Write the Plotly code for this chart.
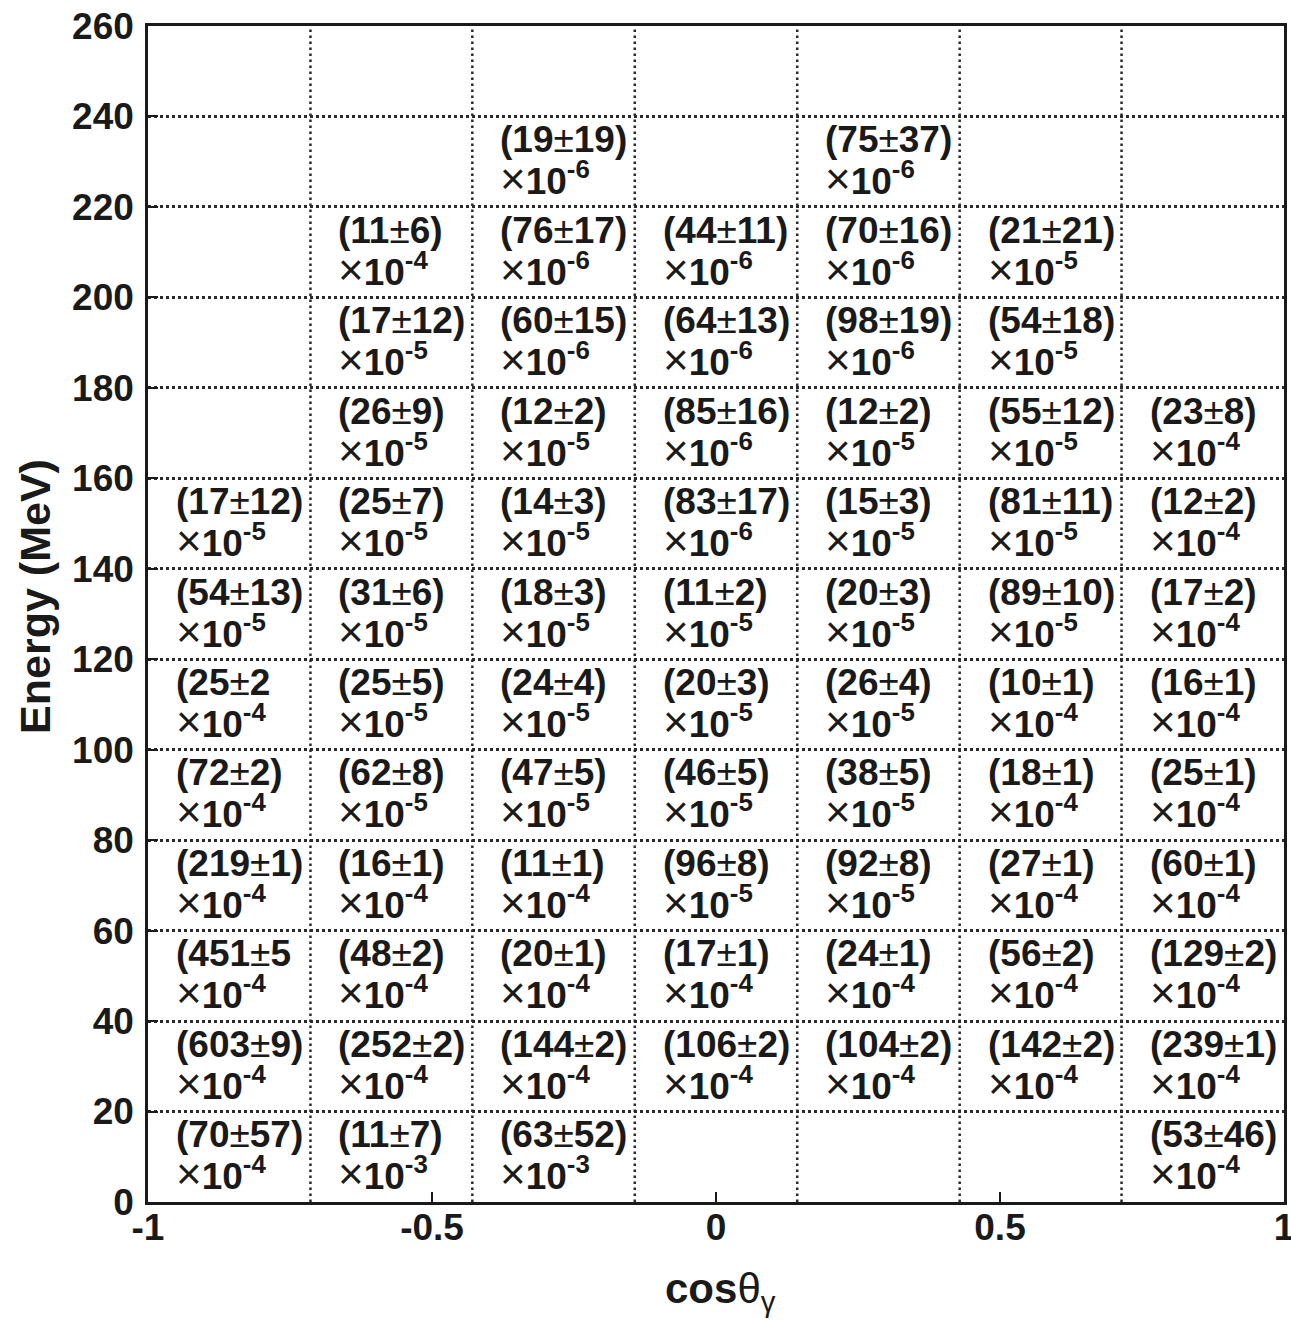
import plotly.graph_objects as go

# ---------------- data ----------------
cos_edges = [-1.0, -0.714, -0.429, -0.143, 0.143, 0.429, 0.714, 1.0]
energy_edges = [0, 20, 40, 60, 80, 100, 120, 140, 160, 180, 200, 220, 240, 260]
x_tick_vals = [-1, -0.5, 0, 0.5, 1]
x_tick_text = ["-1", "-0.5", "0", "0.5", "1"]
y_tick_vals = [0, 20, 40, 60, 80, 100, 120, 140, 160, 180, 200, 220, 240, 260]

# rows: energy bins from 0-20 MeV upward; columns: cos bins from -1 upward
central = [
    [70, 11, 63, None, None, None, 53],
    [603, 252, 144, 106, 104, 142, 239],
    [451, 48, 20, 17, 24, 56, 129],
    [219, 16, 11, 96, 92, 27, 60],
    [72, 62, 47, 46, 38, 18, 25],
    [25, 25, 24, 20, 26, 10, 16],
    [54, 31, 18, 11, 20, 89, 17],
    [17, 25, 14, 83, 15, 81, 12],
    [None, 26, 12, 85, 12, 55, 23],
    [None, 17, 60, 64, 98, 54, None],
    [None, 11, 76, 44, 70, 21, None],
    [None, None, 19, None, 75, None, None],
]
errors = [
    [57, 7, 52, None, None, None, 46],
    [9, 2, 2, 2, 2, 2, 1],
    [5, 2, 1, 1, 1, 2, 2],
    [1, 1, 1, 8, 8, 1, 1],
    [2, 8, 5, 5, 5, 1, 1],
    [2, 5, 4, 3, 4, 1, 1],
    [13, 6, 3, 2, 3, 10, 2],
    [12, 7, 3, 17, 3, 11, 2],
    [None, 9, 2, 16, 2, 12, 8],
    [None, 12, 15, 13, 19, 18, None],
    [None, 6, 17, 11, 16, 21, None],
    [None, None, 19, None, 37, None, None],
]
exponents = [
    [-4, -3, -3, None, None, None, -4],
    [-4, -4, -4, -4, -4, -4, -4],
    [-4, -4, -4, -4, -4, -4, -4],
    [-4, -4, -4, -5, -5, -4, -4],
    [-4, -5, -5, -5, -5, -4, -4],
    [-4, -5, -5, -5, -5, -4, -4],
    [-5, -5, -5, -5, -5, -5, -4],
    [-5, -5, -5, -6, -5, -5, -4],
    [None, -5, -5, -6, -5, -5, -4],
    [None, -5, -6, -6, -6, -5, None],
    [None, -4, -6, -6, -6, -5, None],
    [None, None, -6, None, -6, None, None],
]
# cells printed without closing parenthesis in the original: (row, col)
missing_paren = [(5, 0), (2, 0)]

# ---------------- styling ----------------
FONT = "Liberation Sans, Arial, Helvetica, sans-serif"
INK = "#1a1a1a"
GRID = "#2a2a2a"
CELL_SIZE = 37
NORMAL = "<span style='font-weight:normal'>{}</span>"
TIMES = "<span style='font-weight:normal;font-size:44px'>×</span>"

fig = go.Figure()
# invisible trace to establish the axes
fig.add_trace(go.Scatter(x=[cos_edges[0], cos_edges[-1]], y=[energy_edges[0], energy_edges[-1]],
                         mode="markers", marker=dict(opacity=0), hoverinfo="skip", showlegend=False))

annotations = []
for i in range(len(central)):
    ylo, yhi = energy_edges[i], energy_edges[i + 1]
    ymid = (ylo + yhi) / 2
    for j in range(len(central[i])):
        c = central[i][j]
        if c is None:
            continue
        e = errors[i][j]
        ex = exponents[i][j]
        close = "" if (i, j) in missing_paren else ")"
        line1 = f"({c}{NORMAL.format('±')}{e}{close}"
        line2 = f"{TIMES}10<sup>{ex}</sup>"
        common = dict(x=cos_edges[j], y=ymid, xref="x", yref="y", showarrow=False,
                      xanchor="left", yanchor="middle", xshift=26,
                      font=dict(family=FONT, size=CELL_SIZE, color=INK, weight="bold"))
        annotations.append(dict(text=line1, yshift=22, **common))
        annotations.append(dict(text=line2, yshift=-17, **common))

# axis titles
annotations.append(dict(text="Energy (MeV)", xref="paper", yref="paper", x=-0.099, y=0.515,
                        textangle=-90, showarrow=False, xanchor="center", yanchor="middle",
                        font=dict(family=FONT, size=43, color=INK, weight="bold")))
annotations.append(dict(text="cos" + NORMAL.format("θ") + "<sub>" + NORMAL.format("γ") + "</sub>",
                        xref="paper", yref="paper", x=0.504, y=-0.076,
                        showarrow=False, xanchor="center", yanchor="middle",
                        font=dict(family=FONT, size=42, color=INK, weight="bold")))

# vertical dotted bin boundaries
shapes = []
for xe in cos_edges[1:-1]:
    shapes.append(dict(type="line", xref="x", yref="paper", x0=xe, x1=xe, y0=0, y1=1,
                       line=dict(color=GRID, width=2.5, dash="2.5px,3.5px"), layer="below"))

fig.update_layout(
    width=1291, height=1320,
    margin=dict(l=148, r=7, t=26, b=118, autoexpand=False),
    paper_bgcolor="white", plot_bgcolor="white",
    annotations=annotations, shapes=shapes,
    xaxis=dict(range=[-1, 1], tickvals=x_tick_vals, ticktext=x_tick_text,
               ticks="inside", ticklen=10, tickwidth=2, tickcolor=INK,
               showline=True, mirror=True, linecolor=INK, linewidth=2.5,
               showgrid=False, zeroline=False, automargin=False,
               ticklabelstandoff=-9, ticklabeloverflow="allow",
               tickfont=dict(family=FONT, size=37, color=INK, weight="bold")),
    yaxis=dict(range=[0, 260], tickvals=y_tick_vals,
               ticks="inside", ticklen=10, tickwidth=2, tickcolor=INK,
               showline=True, mirror=True, linecolor=INK, linewidth=2.5,
               showgrid=True, gridcolor=GRID, gridwidth=2.5, griddash="2.5px,3.5px",
               zeroline=False, ticklabelstandoff=4, automargin=False,
               ticklabeloverflow="allow",
               tickfont=dict(family=FONT, size=37, color=INK, weight="bold")),
)

fig.write_html(
    "out.html",
    config={"displayModeBar": False},
    post_script="document.body.style.margin='0';document.body.style.overflow='hidden';",
)
